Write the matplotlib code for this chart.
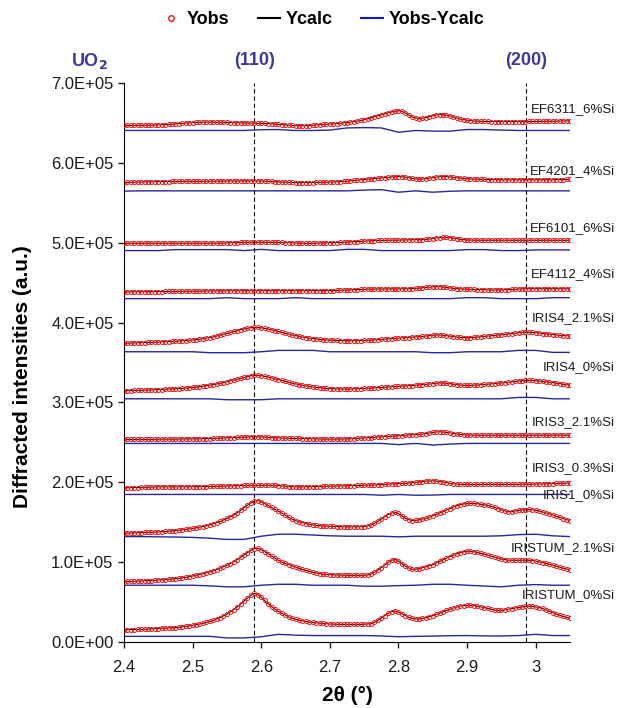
import numpy as np
import matplotlib
matplotlib.use('Agg')
import matplotlib.pyplot as plt
from matplotlib.lines import Line2D
from matplotlib.ticker import FuncFormatter, MultipleLocator

plt.rcParams['font.family'] = ['Liberation Sans', 'DejaVu Sans']

# 2theta grid of the observed points and of the difference curves
two_theta = np.round(np.arange(2.40, 3.0501, 0.005), 3)
diff_theta = np.round(np.arange(2.40, 3.0501, 0.025), 3)

# observed intensities, in 1e3 counts (already shifted as in the figure)
ef6311 = [646.9, 646.9, 647.0, 647.0, 647.1, 647.1, 647.2, 647.2, 647.3, 647.4,
          647.5, 647.7, 647.9, 648.2, 648.5, 648.8, 649.2, 649.5, 649.9, 650.2,
          650.5, 650.7, 650.9, 651.0, 651.1, 651.1, 651.0, 650.9, 650.8, 650.7,
          650.6, 650.4, 650.3, 650.2, 650.1, 650.0, 649.9, 649.9, 649.9, 649.8,
          649.7, 649.5, 649.3, 649.0, 648.7, 648.4, 648.0, 647.6, 647.2, 646.9,
          646.6, 646.5, 646.5, 646.6, 646.8, 647.1, 647.5, 647.9, 648.2, 648.4,
          648.6, 648.9, 649.2, 649.6, 650.0, 650.5, 651.0, 651.6, 652.3, 653.1,
          654.0, 655.2, 656.5, 657.8, 659.0, 660.2, 661.5, 662.7, 663.8, 664.7,
          665.3, 664.5, 662.5, 660.0, 657.5, 656.3, 655.6, 655.8, 656.8, 657.9,
          659.0, 660.0, 660.5, 660.4, 659.8, 658.8, 657.5, 656.2, 655.0, 654.2,
          653.5, 653.0, 652.5, 652.2, 652.0, 651.9, 651.9, 651.8, 651.8, 651.8,
          651.8, 651.8, 651.8, 651.8, 651.8, 651.8, 651.8, 651.8, 651.9, 651.9,
          652.0, 652.0, 652.1, 652.1, 652.2, 652.2, 652.3, 652.4, 652.5, 652.6,
          652.7]
ef4201 = [575.4, 575.5, 575.7, 575.8, 576.0, 576.1, 576.2, 576.3, 576.4, 576.5,
          576.6, 576.6, 576.7, 576.7, 576.8, 576.8, 576.9, 576.9, 577.0, 577.0,
          577.0, 577.0, 577.0, 577.0, 577.1, 577.1, 577.2, 577.2, 577.3, 577.3,
          577.3, 577.3, 577.4, 577.4, 577.4, 577.4, 577.5, 577.5, 577.5, 577.4,
          577.3, 577.2, 577.0, 576.8, 576.5, 576.2, 576.0, 575.8, 575.6, 575.5,
          575.4, 575.4, 575.4, 575.4, 575.4, 575.4, 575.5, 575.5, 575.6, 575.7,
          575.9, 576.1, 576.3, 576.6, 576.9, 577.2, 577.6, 578.0, 578.4, 578.8,
          579.2, 579.6, 580.0, 580.4, 580.8, 581.2, 581.7, 582.1, 582.5, 582.8,
          582.9, 582.7, 582.2, 581.4, 580.6, 580.1, 579.8, 579.9, 580.3, 580.9,
          581.6, 582.2, 582.7, 582.9, 582.9, 582.5, 582.0, 581.4, 580.9, 580.5,
          580.2, 580.0, 579.8, 579.6, 579.5, 579.3, 579.2, 579.1, 579.0, 578.9,
          578.9, 578.8, 578.8, 578.8, 578.8, 578.8, 578.8, 578.8, 578.8, 578.8,
          578.8, 578.8, 578.8, 578.8, 578.9, 578.9, 579.0, 579.1, 579.2, 579.3,
          579.4]
ef6101 = [499.4, 499.4, 499.4, 499.4, 499.4, 499.4, 499.4, 499.4, 499.4, 499.4,
          499.4, 499.4, 499.4, 499.4, 499.4, 499.4, 499.4, 499.4, 499.4, 499.4,
          499.4, 499.4, 499.4, 499.4, 499.4, 499.4, 499.5, 499.5, 499.6, 499.7,
          499.8, 499.9, 500.1, 500.2, 500.4, 500.5, 500.6, 500.6, 500.7, 500.7,
          500.7, 500.7, 500.6, 500.6, 500.5, 500.5, 500.4, 500.3, 500.2, 500.0,
          499.8, 499.6, 499.4, 499.3, 499.3, 499.4, 499.5, 499.6, 499.8, 499.9,
          500.1, 500.2, 500.3, 500.4, 500.6, 500.8, 501.0, 501.2, 501.5, 501.7,
          502.0, 502.2, 502.5, 502.7, 502.9, 503.0, 503.1, 503.1, 503.2, 503.2,
          503.3, 503.4, 503.5, 503.6, 503.7, 503.8, 503.9, 504.0, 504.2, 504.6,
          505.2, 505.9, 506.5, 506.8, 506.8, 506.4, 505.8, 505.1, 504.4, 503.9,
          503.5, 503.3, 503.2, 503.2, 503.2, 503.2, 503.2, 503.2, 503.2, 503.2,
          503.2, 503.2, 503.2, 503.2, 503.2, 503.2, 503.2, 503.2, 503.2, 503.2,
          503.2, 503.2, 503.2, 503.2, 503.2, 503.2, 503.2, 503.2, 503.1, 503.1,
          503.1]
ef4112 = [438.4, 438.4, 438.5, 438.5, 438.6, 438.6, 438.7, 438.7, 438.8, 438.8,
          438.9, 438.9, 439.0, 439.0, 439.1, 439.1, 439.2, 439.2, 439.3, 439.3,
          439.4, 439.4, 439.5, 439.5, 439.6, 439.6, 439.7, 439.7, 439.8, 439.8,
          439.9, 439.9, 440.0, 440.0, 440.0, 440.0, 440.0, 440.0, 440.0, 440.0,
          440.0, 440.0, 440.0, 440.0, 440.0, 440.0, 440.0, 440.0, 440.0, 440.0,
          440.0, 440.0, 440.0, 440.0, 440.0, 440.0, 440.0, 440.0, 440.0, 440.0,
          440.1, 440.2, 440.3, 440.4, 440.6, 440.8, 441.0, 441.2, 441.4, 441.6,
          441.8, 441.9, 442.0, 442.0, 442.1, 442.1, 442.2, 442.2, 442.2, 442.2,
          442.2, 442.2, 442.3, 442.4, 442.6, 442.9, 443.2, 443.6, 444.0, 444.4,
          444.8, 445.0, 445.0, 444.6, 444.0, 443.4, 442.8, 442.5, 442.2, 442.1,
          442.0, 441.8, 441.6, 441.4, 441.2, 441.1, 441.0, 440.9, 440.9, 440.9,
          440.9, 441.0, 441.2, 441.5, 441.8, 442.1, 442.3, 442.4, 442.5, 442.5,
          442.5, 442.5, 442.5, 442.5, 442.4, 442.4, 442.4, 442.4, 442.3, 442.3,
          442.3]
iris4_21 = [374.1, 374.2, 374.4, 374.5, 374.7, 374.8, 375.0, 375.1, 375.3, 375.4,
            375.6, 375.8, 376.0, 376.2, 376.4, 376.6, 376.9, 377.2, 377.5, 377.8,
            378.2, 378.7, 379.2, 379.8, 380.5, 381.2, 382.0, 383.1, 384.2, 385.4,
            386.6, 387.8, 389.0, 390.1, 391.2, 392.2, 393.0, 393.6, 394.1, 394.0,
            393.5, 392.8, 392.0, 391.0, 390.0, 388.9, 387.8, 386.7, 385.6, 384.6,
            383.7, 382.8, 382.0, 381.2, 380.5, 380.0, 379.5, 379.0, 378.6, 378.3,
            378.0, 377.8, 377.6, 377.5, 377.4, 377.3, 377.3, 377.3, 377.4, 377.5,
            377.7, 377.9, 378.2, 378.4, 378.7, 379.0, 379.3, 379.5, 379.8, 380.1,
            380.4, 380.7, 381.0, 381.3, 381.6, 381.9, 382.3, 382.7, 383.2, 383.7,
            384.2, 384.5, 384.5, 384.1, 383.6, 383.0, 382.4, 381.9, 381.5, 381.3,
            381.1, 381.3, 381.5, 381.9, 382.3, 382.7, 383.2, 383.6, 384.0, 384.4,
            384.8, 385.2, 385.7, 386.2, 386.8, 387.3, 387.7, 387.9, 387.9, 387.7,
            387.4, 386.9, 386.3, 385.8, 385.3, 384.9, 384.5, 384.1, 383.8, 383.5,
            383.2]
iris4_0 = [314.7, 314.8, 314.9, 315.0, 315.1, 315.2, 315.4, 315.5, 315.7, 315.8,
           316.0, 316.2, 316.4, 316.6, 316.8, 317.0, 317.3, 317.6, 318.0, 318.4,
           318.9, 319.3, 319.8, 320.3, 320.9, 321.6, 322.3, 323.1, 324.0, 324.9,
           325.9, 326.9, 328.0, 329.1, 330.3, 331.4, 332.5, 333.4, 334.0, 334.0,
           333.5, 332.8, 332.0, 330.9, 329.8, 328.6, 327.5, 326.3, 325.2, 324.2,
           323.3, 322.4, 321.5, 320.7, 320.0, 319.4, 318.9, 318.4, 318.0, 317.6,
           317.3, 317.1, 316.9, 316.8, 316.8, 316.8, 316.9, 317.0, 317.2, 317.4,
           317.6, 317.8, 318.0, 318.2, 318.5, 318.8, 319.2, 319.4, 319.7, 320.0,
           320.2, 320.4, 320.7, 321.0, 321.2, 321.5, 321.8, 322.2, 322.6, 323.1,
           323.7, 324.2, 324.5, 324.4, 324.0, 323.4, 322.8, 322.3, 321.8, 321.6,
           321.4, 321.5, 321.6, 321.9, 322.2, 322.5, 322.9, 323.2, 323.6, 323.9,
           324.3, 324.7, 325.2, 325.7, 326.3, 326.8, 327.3, 327.6, 327.7, 327.6,
           327.3, 326.9, 326.4, 326.0, 325.5, 324.9, 324.2, 323.5, 322.8, 322.2,
           321.6]
iris3_21 = [253.7, 253.7, 253.7, 253.7, 253.8, 253.8, 253.8, 253.8, 253.9, 253.9,
            254.0, 254.0, 254.0, 254.0, 254.1, 254.1, 254.2, 254.2, 254.3, 254.3,
            254.4, 254.4, 254.5, 254.6, 254.7, 254.8, 255.0, 255.1, 255.3, 255.5,
            255.7, 255.8, 256.0, 256.2, 256.4, 256.6, 256.8, 256.9, 257.0, 256.9,
            256.8, 256.5, 256.3, 256.0, 255.8, 255.6, 255.4, 255.2, 255.1, 255.0,
            255.0, 254.9, 254.8, 254.7, 254.6, 254.5, 254.4, 254.3, 254.2, 254.1,
            254.1, 254.1, 254.1, 254.1, 254.2, 254.3, 254.5, 254.7, 255.0, 255.2,
            255.5, 255.7, 256.0, 256.3, 256.6, 256.9, 257.2, 257.5, 257.8, 258.0,
            258.3, 258.6, 259.0, 259.3, 259.6, 259.8, 260.0, 260.4, 261.0, 261.8,
            262.5, 263.0, 263.3, 263.0, 262.5, 261.8, 261.0, 260.4, 260.0, 259.6,
            259.3, 259.1, 259.0, 259.0, 259.0, 259.0, 259.0, 259.0, 259.1, 259.1,
            259.1, 259.1, 259.1, 259.1, 259.1, 259.1, 259.1, 259.1, 259.1, 259.1,
            259.1, 259.1, 259.1, 259.1, 259.1, 259.1, 259.1, 259.1, 259.1, 259.1,
            259.1]
iris3_03 = [193.1, 193.2, 193.3, 193.4, 193.5, 193.6, 193.8, 193.9, 194.0, 194.1,
            194.3, 194.3, 194.3, 194.3, 194.3, 194.3, 194.3, 194.3, 194.3, 194.4,
            194.5, 194.5, 194.5, 194.6, 194.7, 194.8, 194.9, 194.9, 195.0, 195.1,
            195.2, 195.3, 195.5, 195.7, 196.0, 196.2, 196.4, 196.4, 196.4, 196.4,
            196.4, 196.4, 196.4, 196.3, 196.2, 195.9, 195.5, 195.0, 194.5, 194.4,
            194.3, 194.3, 194.3, 194.4, 194.5, 194.5, 194.6, 194.7, 194.8, 194.9,
            195.0, 195.1, 195.3, 195.4, 195.6, 195.7, 195.9, 196.0, 196.1, 196.2,
            196.3, 196.4, 196.5, 196.7, 197.0, 197.2, 197.5, 197.7, 198.0, 198.2,
            198.5, 198.6, 198.8, 199.1, 199.5, 200.0, 200.5, 201.0, 201.5, 201.7,
            201.8, 201.5, 201.0, 200.3, 199.5, 198.8, 198.2, 197.8, 197.5, 197.4,
            197.3, 197.3, 197.3, 197.3, 197.3, 197.3, 197.3, 197.3, 197.3, 197.3,
            197.3, 197.3, 197.4, 197.4, 197.5, 197.5, 197.6, 197.6, 197.7, 197.7,
            197.8, 197.9, 198.0, 198.1, 198.3, 198.4, 198.6, 198.8, 199.0, 199.1,
            199.3]
iris1_0 = [136.3, 136.4, 136.6, 136.7, 136.9, 137.0, 137.2, 137.3, 137.5, 137.7,
           137.9, 138.1, 138.4, 138.8, 139.2, 139.6, 140.0, 140.5, 141.0, 141.6,
           142.2, 143.0, 143.8, 144.6, 145.5, 146.7, 148.0, 149.4, 151.0, 152.8,
           154.7, 156.8, 159.0, 161.9, 165.0, 168.3, 171.5, 174.3, 176.5, 177.0,
           175.5, 173.4, 171.0, 168.5, 166.0, 163.7, 161.5, 158.7, 156.0, 153.9,
           152.0, 150.7, 149.5, 148.4, 147.5, 146.8, 146.2, 145.7, 145.3, 145.1,
           145.0, 144.8, 144.6, 144.4, 144.3, 144.2, 144.2, 144.2, 144.2, 144.3,
           144.5, 145.2, 146.5, 148.5, 151.0, 154.0, 157.0, 159.6, 161.5, 162.2,
           161.0, 158.0, 155.0, 153.2, 152.0, 152.3, 153.0, 154.0, 155.0, 156.4,
           158.0, 159.7, 161.5, 163.2, 165.0, 167.0, 169.0, 170.6, 172.0, 172.9,
           173.5, 173.6, 173.5, 173.1, 172.5, 171.8, 171.0, 169.8, 168.5, 167.0,
           165.5, 164.2, 163.0, 163.4, 164.0, 164.8, 165.5, 165.8, 166.0, 165.6,
           165.0, 164.1, 163.0, 161.8, 160.5, 159.0, 157.5, 156.0, 154.5, 153.2,
           152.0]
iristum_21 = [75.7, 75.8, 76.0, 76.1, 76.3, 76.4, 76.6, 76.8, 77.0, 77.2,
              77.5, 77.8, 78.2, 78.6, 79.0, 79.4, 79.8, 80.4, 81.0, 81.8,
              82.7, 83.6, 84.5, 85.5, 86.5, 87.7, 89.0, 90.7, 92.5, 94.3,
              96.2, 98.3, 100.5, 103.2, 106.0, 109.0, 112.0, 114.8, 117.0, 117.3,
              115.5, 113.2, 110.5, 107.8, 105.0, 102.4, 100.0, 98.4, 97.0, 95.5,
              94.0, 92.5, 91.0, 89.7, 88.5, 87.4, 86.5, 85.7, 85.0, 84.6,
              84.3, 84.1, 84.0, 83.8, 83.7, 83.6, 83.5, 83.5, 83.5, 83.5,
              83.6, 84.0, 85.0, 87.2, 90.0, 93.2, 96.5, 99.8, 102.5, 103.3,
              101.5, 98.3, 95.0, 92.8, 91.0, 91.3, 92.0, 93.0, 94.0, 95.5,
              97.0, 99.0, 101.0, 103.0, 105.0, 106.9, 108.7, 110.5, 112.0, 113.0,
              113.7, 113.5, 113.0, 112.1, 111.0, 110.0, 109.0, 107.8, 106.5, 105.2,
              104.0, 103.2, 102.5, 102.4, 102.4, 102.4, 102.4, 102.4, 102.4, 102.0,
              101.5, 100.5, 99.5, 98.5, 97.5, 96.3, 95.0, 93.7, 92.5, 91.5,
              90.5]
iristum_0 = [15.5, 15.5, 15.6, 15.6, 15.7, 15.7, 15.8, 16.1, 16.5, 16.7,
             16.9, 17.1, 17.3, 17.5, 17.8, 18.1, 18.5, 19.0, 19.5, 20.2,
             20.9, 21.7, 22.5, 23.5, 24.5, 25.7, 27.0, 28.7, 30.5, 32.7,
             35.0, 37.7, 40.5, 44.0, 47.5, 51.3, 55.0, 58.3, 61.0, 59.5,
             56.0, 52.0, 48.0, 44.3, 41.0, 38.3, 36.0, 33.6, 31.5, 29.9,
             28.5, 27.4, 26.5, 25.7, 25.0, 24.5, 24.0, 23.6, 23.2, 22.8,
             22.5, 22.3, 22.2, 22.1, 22.0, 22.0, 22.0, 22.0, 22.0, 22.1,
             22.3, 22.6, 23.0, 24.7, 27.0, 30.0, 33.0, 35.8, 38.0, 38.9,
             37.5, 35.3, 33.0, 31.0, 29.5, 29.0, 29.0, 29.6, 30.5, 31.7,
             33.0, 34.5, 36.0, 37.8, 39.5, 41.0, 42.5, 43.8, 45.0, 45.6,
             46.0, 45.9, 45.5, 44.8, 44.0, 43.0, 42.0, 41.0, 40.0, 39.6,
             39.5, 40.2, 41.0, 41.8, 42.5, 43.3, 44.0, 44.5, 44.8, 44.6,
             44.0, 43.1, 42.0, 40.3, 38.5, 36.7, 35.0, 33.5, 32.0, 30.7,
             29.5]

# Yobs-Ycalc, 1e3 counts around each baseline
diff_base = [640.6, 565.0, 490.2, 430.0, 363.5, 304.6, 248.7, 184.8, 132.5, 71.1, 7.1]
d_ef6311 = [0, 0, 0, 0, 0, 0, 0, 0, 1.0, 1.2, 0, 0, 0.5, 3.2, 3.6, 3.2, -2.2, 0, -0.8, -0.8, 1.2, 1.2, 0.5, 0, 0, 0, 0]
d_ef4201 = [-0.3, 0, 0, 0, 0, 0, 0, 0, 0, 0, 0, 0, 0, 0, 1.0, 1.5, -1.7, 0, -1.7, -0.5, 0, 0, 0, 0, 0, 0, 0]
d_ef6101 = [0, 0, 0, 1.2, 1.2, 1.2, 1.2, 0, 1.5, 0, 0, 0, 0, 1.5, 1.5, 0, 0, 0, 0, 0, 1.2, 1.2, 0, 0, 0.8, 0.8, 0.8]
d_ef4112 = [0, 0, 0, 0, 0, 0, 1.2, 0, 0, 0, 1.2, 0, 0, 0, 0, 0, 0, 0, 0, 0, 1.2, 1.2, 0, 0, 0, 1.2, 1.2]
d_iris4_21 = [0, 0, 0, 0, 0, -1.2, -1.2, -1.2, 0, 1.7, 1.7, 1.7, 0, 0, 0, 0, 0, 0, -1.2, -1.2, 0, 0, 0, 1.7, 1.7, -0.8, -0.8]
d_iris4_0 = [0, 0, 0, 0, 0, 0, -1.2, -1.2, -1.2, 0, 0, 0, 0, 0, 0, 0, 0, 0, 0, 0, 0, 0, 0, 1.7, 1.7, 0, 0]
d_iris3_21 = [0, 0, 0, 0, 0, 0, 0, 0, 0, 0, 0, 0, 0, 0, 0, 0, -1.5, 0, -2.0, -0.8, 0, 0, 0, 0, 0, 0, 0]
d_iris3_03 = [0, 0, 0, 0, 0, 0, 0, 0, 0, 0, 0, 0, 0, 0, 0, -1.0, 0, -1.0, -0.8, 0, 0, 0, 0, 0, 0, 0, 0]
d_iris1_0 = [-0.5, -0.5, -0.8, -1.0, -1.5, -2.5, -4.0, -4.0, 0, 2.5, 2.5, 1.5, 0.5, 0, 0, 0, -0.8, 0, 0, 0, 0, 0, 0.5, 2.0, 2.5, 0.5, -0.5]
d_iristum_21 = [0, 0, 0, 0, 0, -0.8, -2.0, -2.0, 0, 1.2, 1.2, 0, 0, 0, -1.2, -1.2, -0.5, 0, 1.2, 1.2, 0, -1.0, -2.0, 0, 0.8, 0, 0]
d_iristum_0 = [0, 0, 0, 0, 0, 0, -2.0, -2.0, -0.5, 2.5, 1.5, 1.0, 1.0, 1.0, 1.0, 0.5, -0.5, 0, 0.3, 0.8, 1.0, 0.5, 0.5, 1.0, 2.5, 1.0, 1.0]

sample_names = ['EF6311_6%Si', 'EF4201_4%Si', 'EF6101_6%Si', 'EF4112_4%Si',
                'IRIS4_2.1%Si', 'IRIS4_0%Si', 'IRIS3_2.1%Si', 'IRIS3_0.3%Si',
                'IRIS1_0%Si', 'IRISTUM_2.1%Si', 'IRISTUM_0%Si']
peak_pos = [2.59, 2.986]
peak_names = ['(110)', '(200)']

obs_all = [ef6311, ef4201, ef6101, ef4112, iris4_21, iris4_0,
           iris3_21, iris3_03, iris1_0, iristum_21, iristum_0]
diff_all = [d_ef6311, d_ef4201, d_ef6101, d_ef4112, d_iris4_21, d_iris4_0,
            d_iris3_21, d_iris3_03, d_iris1_0, d_iristum_21, d_iristum_0]

# where the sample names sit (1e3 counts)
label_y = [667.8, 589.5, 518.3, 460.3, 405.8, 344.4, 275.4, 217.8, 183.9, 117.5, 58.5]

red = '#ff1010'
navy = '#2626a0'
hkl_col = '#3a3a9a'

fig = plt.figure(figsize=(6.19, 7.08), dpi=100)
ax = fig.add_axes([0.2003, 0.0932, 0.7205, 0.7895])

for obs, d, base, name, ly in zip(obs_all, diff_all, diff_base, sample_names, label_y):
    y = np.array(obs) * 1e3
    ax.plot(two_theta, y, color='black', lw=0.7, zorder=2)
    ax.plot(two_theta, y, ls='none', marker='o', ms=2.9, mfc='none',
            mec=red, mew=0.7, zorder=3)
    ax.plot(diff_theta, (base + np.array(d)) * 1e3, color=navy, lw=1.0, zorder=2)
    ax.text(1.101, ly * 1e3, name, transform=ax.get_yaxis_transform(),
            ha='right', va='center', fontsize=9.5, color='#1a1a1a')

for p, nm in zip(peak_pos, peak_names):
    ax.axvline(p, color='black', lw=0.8, ls=(0, (4, 2.5)), zorder=1)
    ax.text(p, 1.04, nm, transform=ax.get_xaxis_transform(), ha='center',
            va='center', fontsize=13, fontweight='bold', color=hkl_col)
ax.text(-0.078, 1.04, 'UO$_\\mathbf{2}$', transform=ax.transAxes, ha='center',
        va='center', fontsize=13, fontweight='bold', color=hkl_col)

ax.set_xlim(2.4, 3.05)
ax.set_ylim(0, 7e5)
ax.xaxis.set_major_locator(MultipleLocator(0.1))
ax.yaxis.set_major_locator(MultipleLocator(1e5))
ax.xaxis.set_major_formatter(FuncFormatter(lambda v, p: '%g' % round(v, 2)))
ax.yaxis.set_major_formatter(FuncFormatter(lambda v, p: '%.1E' % v))
ax.spines['top'].set_visible(False)
ax.spines['right'].set_visible(False)
ax.tick_params(direction='out', length=4, width=1, labelsize=12, colors='#1a1a1a')
ax.tick_params(axis='x', pad=9)

ax.set_xlabel('2θ (°)', fontsize=15, fontweight='bold')
ax.set_ylabel('Diffracted intensities (a.u.)', fontsize=15, fontweight='bold')
ax.xaxis.set_label_coords(0.5, -0.078)
ax.yaxis.set_label_coords(-0.206, 0.475)

handles = [Line2D([], [], ls='none', marker='o', ms=4, mfc='none', mec=red, mew=1),
           Line2D([], [], color='black', lw=1.5),
           Line2D([], [], color='#1414e0', lw=1.5)]
fig.legend(handles, ['Yobs', 'Ycalc', 'Yobs-Ycalc'], loc='center',
           bbox_to_anchor=(0.52, 0.972), ncol=3, frameon=False,
           prop={'weight': 'bold', 'size': 13}, handlelength=1.2,
           handletextpad=0.3, columnspacing=1.6)

fig.savefig('out.png', dpi=100)
